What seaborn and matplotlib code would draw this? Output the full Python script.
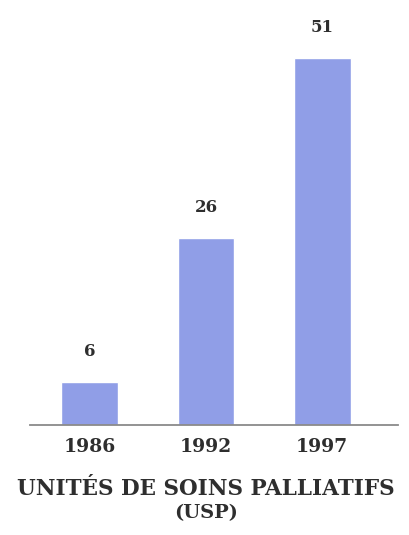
import matplotlib
matplotlib.use("Agg")
import matplotlib.pyplot as plt
import seaborn as sns
import pandas as pd

# Data
years = ["1986", "1992", "1997"]
units = [6, 26, 51]
title_lines = ["UNITÉS DE SOINS PALLIATIFS", "(USP)"]

bar_color = "#909ee7"
text_color = "#2e2e2e"
serif = ["DejaVu Serif"]

sns.set_theme(style="white")
plt.rcParams["font.family"] = serif

df = pd.DataFrame({"annee": years, "usp": units})

fig = plt.figure(figsize=(4.09, 5.35), dpi=100)
ax = fig.add_axes([30 / 409, 110 / 535, 368 / 409, 405 / 535])

sns.barplot(data=df, x="annee", y="usp", color=bar_color, saturation=1,
            width=0.49, ax=ax)

ax.set_ylim(0, 56.25)
ax.set_xlim(-0.516, 2.653)

for i, v in enumerate(units):
    ax.annotate(str(v), xy=(i, v), xytext=(0, 22), textcoords="offset points",
                ha="center", va="center", fontsize=12, fontweight="bold",
                color=text_color, family=serif)

for s in ["top", "left", "right"]:
    ax.spines[s].set_visible(False)
ax.spines["bottom"].set_color("#8a8a8a")
ax.spines["bottom"].set_linewidth(1.3)
ax.set_yticks([])
ax.set_ylabel("")
ax.set_xlabel("")
ax.tick_params(axis="x", length=0, pad=9, labelsize=13.5, labelcolor=text_color)
for lab in ax.get_xticklabels():
    lab.set_fontweight("semibold")

fig.text(206 / 409, 1 - 489 / 535, title_lines[0], ha="center", va="center",
         fontsize=15.5, fontweight="bold", color=text_color, family=serif)
fig.text(206 / 409, 1 - 513 / 535, title_lines[1], ha="center", va="center",
         fontsize=14, fontweight="bold", color=text_color, family=serif)

fig.savefig("out.png", dpi=100, facecolor="white")
